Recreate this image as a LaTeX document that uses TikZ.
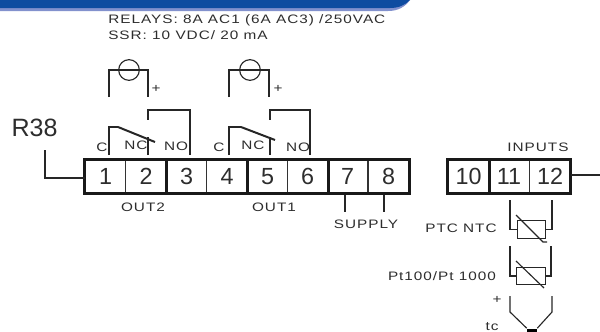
\documentclass[tikz,border=0pt]{standalone}
\usepackage{fontspec}
\usepackage{xcolor}
\setmainfont{Liberation Sans}
\newfontfamily\labelfont[LetterSpace=8,FakeStretch=1.25]{Liberation Sans}
\definecolor{bandblue}{RGB}{14,76,160}
\definecolor{bandedge}{RGB}{130,145,205}
\definecolor{inkgrey}{RGB}{45,45,45}
\begin{document}
\begin{tikzpicture}[x=0.75pt,y=-0.75pt]
	\tikzstyle{terminal}=[rectangle,draw=black!80,line width=0.85pt,minimum width=30.4pt,minimum height=24.7pt,inner sep=0pt,text=inkgrey,font=\fontsize{17.5}{18}\selectfont]
	\tikzstyle{wire}=[draw=black!85,line width=0.85pt]
	\tikzstyle{bar}=[draw=black!90,line width=2.1pt]
	\tikzstyle{tag}=[inner sep=0pt,text=inkgrey,font=\labelfont\fontsize{9.2}{10}\selectfont]
	\tikzstyle{res}=[rectangle,draw=black!85,line width=0.85pt,minimum width=21.5pt,minimum height=13pt,inner sep=0pt]
	\tikzstyle{load}=[circle,draw=black!85,line width=0.85pt,minimum size=15.5pt,inner sep=0pt]
	\useasboundingbox (0,0) rectangle (600,332);
	% header band
	\fill[bandedge] (0,0) -- (410,0) .. controls (405,7) and (398,11) .. (388,11) -- (0,11) -- cycle;
	\fill[bandblue] (0,0) -- (410,0) .. controls (405,5) and (399,8) .. (390,8) -- (0,8) -- cycle;
	% terminals
	\node[terminal](t1) at (105.5,176.5){1};
	\node[terminal](t2) at (146,176.5){2};
	\node[terminal](t3) at (186.5,176.5){3};
	\node[terminal](t4) at (227,176.5){4};
	\node[terminal](t5) at (267.5,176.5){5};
	\node[terminal](t6) at (307.5,176.5){6};
	\node[terminal](t7) at (347.5,176.5){7};
	\node[terminal](t8) at (388.5,176.5){8};
	\node[terminal](t10) at (468.5,176.5){10};
	\node[terminal](t11) at (509,176.5){11};
	\node[terminal](t12) at (550,176.5){12};
	\draw[bar] (t1.north west) rectangle (t8.south east);
	\draw[bar] (t10.north west) rectangle (t12.south east);
	\draw[bar] (t2.north east) -- (t2.south east);
	\draw[bar] (t4.north east) -- (t4.south east);
	\draw[bar] (t6.north east) -- (t6.south east);
	\draw[bar] (t10.north east) -- (t10.south east);
	% outer leads
	\node[inner sep=0pt,text=inkgrey,font=\fontsize{18.8}{19}\selectfont](r38) at (34.5,128){R38};
	\coordinate (r38top) at (45,150);
	\coordinate (r38bot) at (45,178);
	\coordinate (r38end) at (85,178);
	\draw[wire] (r38top) -- (r38bot) -- (r38end);
	\coordinate (rgt) at (600,175);
	\coordinate (rgtend) at (571,175);
	\draw[wire] (rgtend) -- (rgt);
	% texts
	\node[tag,anchor=west](relays) at (108,20){RELAYS: 8A AC1 (6A AC3) /250VAC};
	\node[tag,anchor=west](ssr) at (108,35.5){SSR: 10 VDC/ 20 mA};
	\node[tag](out2) at (143,207){OUT2};
	\node[tag](out1) at (274,207){OUT1};
	\node[tag](supply) at (366,224){SUPPLY};
	\node[tag](inputs) at (538,147){INPUTS};
	\node[tag](ptc) at (461,228){PTC NTC};
	\node[tag](pt) at (442,276){Pt100/Pt 1000};
	\node[tag](plus) at (497,300){+};
	\node[tag](tc) at (492,327){tc};
	% loads
	\coordinate (la1) at (109,97);
	\coordinate (la2) at (109,70);
	\coordinate (la3) at (148,70);
	\coordinate (la4) at (148,97);
	\draw[wire] (la1) -- (la2) -- (la3) -- (la4);
	\node[load](loada) at (129,70){};
	\node[tag](signa) at (156,89){+};
	\coordinate (lb1) at (229,97);
	\coordinate (lb2) at (229,70);
	\coordinate (lb3) at (269,70);
	\coordinate (lb4) at (269,97);
	\draw[wire] (lb1) -- (lb2) -- (lb3) -- (lb4);
	\node[load](loadb) at (250,70){};
	\node[tag](signb) at (278,89){+};
	% contacts
	\coordinate (ca1) at (109,155);
	\coordinate (ca2) at (109,127);
	\coordinate (ca3) at (118,127);
	\coordinate (ca4) at (155,142);
	\draw[wire] (ca1) -- (ca2) -- (ca3);
	\draw[wire,line width=1.5pt] (ca3) -- (ca4);
	\coordinate (na1) at (148,155);
	\coordinate (na2) at (148,137);
	\draw[wire] (na1) -- (na2);
	\coordinate (oa1) at (190,155);
	\coordinate (oa2) at (190,110);
	\coordinate (oa3) at (148,110);
	\coordinate (oa4) at (148,120);
	\draw[wire] (oa1) -- (oa2) -- (oa3) -- (oa4);
	\node[tag](ctaga) at (102,147){C};
	\node[tag](nctaga) at (136,145){NC};
	\node[tag](notaga) at (176,146){NO};
	\coordinate (cb1) at (229,155);
	\coordinate (cb2) at (229,127);
	\coordinate (cb3) at (241,127);
	\coordinate (cb4) at (275,140);
	\draw[wire] (cb1) -- (cb2) -- (cb3);
	\draw[wire,line width=1.5pt] (cb3) -- (cb4);
	\coordinate (nb1) at (270,155);
	\coordinate (nb2) at (270,137);
	\draw[wire] (nb1) -- (nb2);
	\coordinate (ob1) at (310,155);
	\coordinate (ob2) at (310,110);
	\coordinate (ob3) at (270,110);
	\coordinate (ob4) at (270,120);
	\draw[wire] (ob1) -- (ob2) -- (ob3) -- (ob4);
	\node[tag](ctagb) at (219,147){C};
	\node[tag](nctagb) at (253,145){NC};
	\node[tag](notagb) at (298,147){NO};
	% supply leads
	\coordinate (s7a) at (345,195);
	\coordinate (s7b) at (345,212);
	\coordinate (s8a) at (384,195);
	\coordinate (s8b) at (384,212);
	\path[wire]
		(s7a) edge node {}(s7b)
		(s8a) edge node {}(s8b);
	% PTC NTC
	\node[res](resa) at (531.5,229.5){};
	\coordinate (ra1) at (510,200);
	\coordinate (ra2) at (510,229.5);
	\coordinate (ra3) at (552,200);
	\coordinate (ra4) at (552,229.5);
	\draw[wire] (ra1) -- (ra2) -- (resa.west);
	\draw[wire] (ra3) -- (ra4) -- (resa.east);
	\coordinate (ra5) at (516,215);
	\coordinate (ra6) at (543,242);
	\coordinate (ra7) at (547,242);
	\draw[wire] (ra5) -- (ra6) -- (ra7);
	% Pt100
	\node[res](resb) at (531,276){};
	\coordinate (rb1) at (510,246);
	\coordinate (rb2) at (510,276);
	\coordinate (rb3) at (551,246);
	\coordinate (rb4) at (551,276);
	\draw[wire] (rb1) -- (rb2) -- (resb.west);
	\draw[wire] (rb3) -- (rb4) -- (resb.east);
	\coordinate (rb5) at (516,261);
	\coordinate (rb6) at (544,288);
	\draw[wire] (rb5) -- (rb6);
	% thermocouple
	\node[rectangle,fill=black,minimum width=7.5pt,minimum height=3pt,inner sep=0pt](junction) at (532,330.5){};
	\coordinate (tc1) at (510,296);
	\coordinate (tc2) at (510,312);
	\coordinate (tc3) at (552,296);
	\coordinate (tc4) at (552,312);
	\draw[wire] (tc1) -- (tc2) -- (junction.north west);
	\draw[wire] (tc3) -- (tc4) -- (junction.north east);
\end{tikzpicture}
\end{document}
